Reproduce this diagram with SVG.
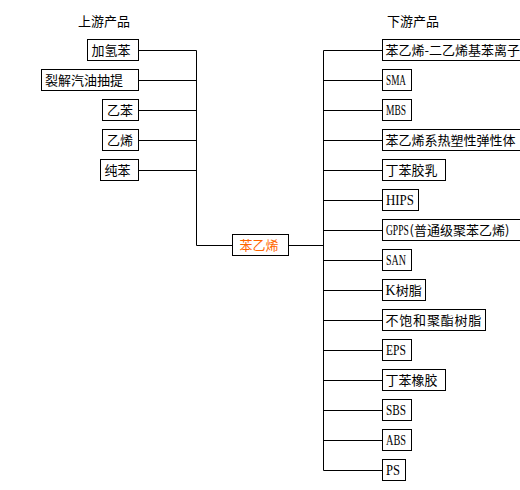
<svg xmlns="http://www.w3.org/2000/svg" width="520" height="490" viewBox="0 0 520 490">
<style>
rect.b{fill:#fff;stroke:#000;stroke-width:1}
text{font-family:"Noto Sans CJK SC","Liberation Sans",sans-serif;font-size:13px;fill:#000}
.lat{font-family:"Liberation Serif",serif;font-size:14px}
.c{fill:#FF6600}
#connectors path{fill:none;stroke:#000;stroke-width:1}
</style>
<rect width="520" height="490" fill="#fff"/>
<text x="78" y="26">上游产品</text>
<text x="387" y="26">下游产品</text>
<g id="connectors">
<path d="M138.5 50.5H196.5M138.5 80.5H196.5M138.5 110.5H196.5M138.5 140.5H196.5M138.5 170.5H196.5M196.5 50.5V245.5H232.5"/>
<path d="M288.5 245.5H323.5M323.5 50.5V470.5"/>
<path d="M323.5 50.5H382.5M323.5 80.5H382.5M323.5 110.5H382.5M323.5 140.5H382.5M323.5 170.5H382.5M323.5 200.5H382.5M323.5 230.5H382.5M323.5 260.5H382.5M323.5 290.5H382.5M323.5 320.5H382.5M323.5 350.5H382.5M323.5 380.5H382.5M323.5 410.5H382.5M323.5 440.5H382.5M323.5 470.5H382.5"/>
</g>
<g id="n-jqb"><rect class="b" x="87.5" y="39.5" width="51" height="21"/><text x="91.5" y="55">加氢苯</text></g>
<g id="n-ljqy"><rect class="b" x="41.5" y="69.5" width="97" height="21"/><text x="45" y="85">裂解汽油抽提</text></g>
<g id="n-yb"><rect class="b" x="102.5" y="99.5" width="36" height="21"/><text x="107" y="115">乙苯</text></g>
<g id="n-yx"><rect class="b" x="102.5" y="129.5" width="36" height="21"/><text x="107" y="145">乙烯</text></g>
<g id="n-cb"><rect class="b" x="100.5" y="159.5" width="38" height="21"/><text x="104.5" y="175">纯苯</text></g>
<g id="n-center"><rect class="b" x="232.5" y="234.5" width="56" height="21"/><text class="c" x="239.5" y="250">苯乙烯</text></g>
<g id="n-d1"><rect class="b" x="382.5" y="39.5" width="160" height="21"/><text x="385.5" y="55">苯乙烯-二乙烯基苯离子</text></g>
<g id="n-d2"><rect class="b" x="382.5" y="69.5" width="29" height="21"/><text class="lat" x="386" y="85" textLength="20" lengthAdjust="spacingAndGlyphs">SMA</text></g>
<g id="n-d3"><rect class="b" x="382.5" y="99.5" width="29" height="21"/><text class="lat" x="386" y="115" textLength="20" lengthAdjust="spacingAndGlyphs">MBS</text></g>
<g id="n-d4"><rect class="b" x="382.5" y="129.5" width="160" height="21"/><text x="385.5" y="145">苯乙烯系热塑性弹性体</text></g>
<g id="n-d5"><rect class="b" x="382.5" y="159.5" width="63" height="21"/><text x="385.5" y="175">丁苯胶乳</text></g>
<g id="n-d6"><rect class="b" x="382.5" y="189.5" width="36" height="21"/><text class="lat" x="386" y="205" textLength="28" lengthAdjust="spacingAndGlyphs">HIPS</text></g>
<g id="n-d7"><rect class="b" x="382.5" y="219.5" width="160" height="21"/><text class="lat" transform="translate(386,235) scale(0.68,1)">GPPS</text><text x="409.5" y="235">(普通级聚苯乙烯)</text></g>
<g id="n-d8"><rect class="b" x="382.5" y="249.5" width="29" height="21"/><text class="lat" x="386" y="265" textLength="20" lengthAdjust="spacingAndGlyphs">SAN</text></g>
<g id="n-d9"><rect class="b" x="382.5" y="279.5" width="43" height="21"/><text x="385.5" y="295"><tspan class="lat">K</tspan>树脂</text></g>
<g id="n-d10"><rect class="b" x="382.5" y="309.5" width="103" height="21"/><text x="385.5" y="325" letter-spacing="0.8">不饱和聚酯树脂</text></g>
<g id="n-d11"><rect class="b" x="382.5" y="339.5" width="29" height="21"/><text class="lat" x="386" y="355" textLength="20" lengthAdjust="spacingAndGlyphs">EPS</text></g>
<g id="n-d12"><rect class="b" x="382.5" y="369.5" width="63" height="21"/><text x="385.5" y="385">丁苯橡胶</text></g>
<g id="n-d13"><rect class="b" x="382.5" y="399.5" width="29" height="21"/><text class="lat" x="386" y="415" textLength="20" lengthAdjust="spacingAndGlyphs">SBS</text></g>
<g id="n-d14"><rect class="b" x="382.5" y="429.5" width="29" height="21"/><text class="lat" x="386" y="445" textLength="20" lengthAdjust="spacingAndGlyphs">ABS</text></g>
<g id="n-d15"><rect class="b" x="382.5" y="459.5" width="23" height="21"/><text class="lat" x="386" y="475" textLength="14" lengthAdjust="spacingAndGlyphs">PS</text></g>
</svg>
